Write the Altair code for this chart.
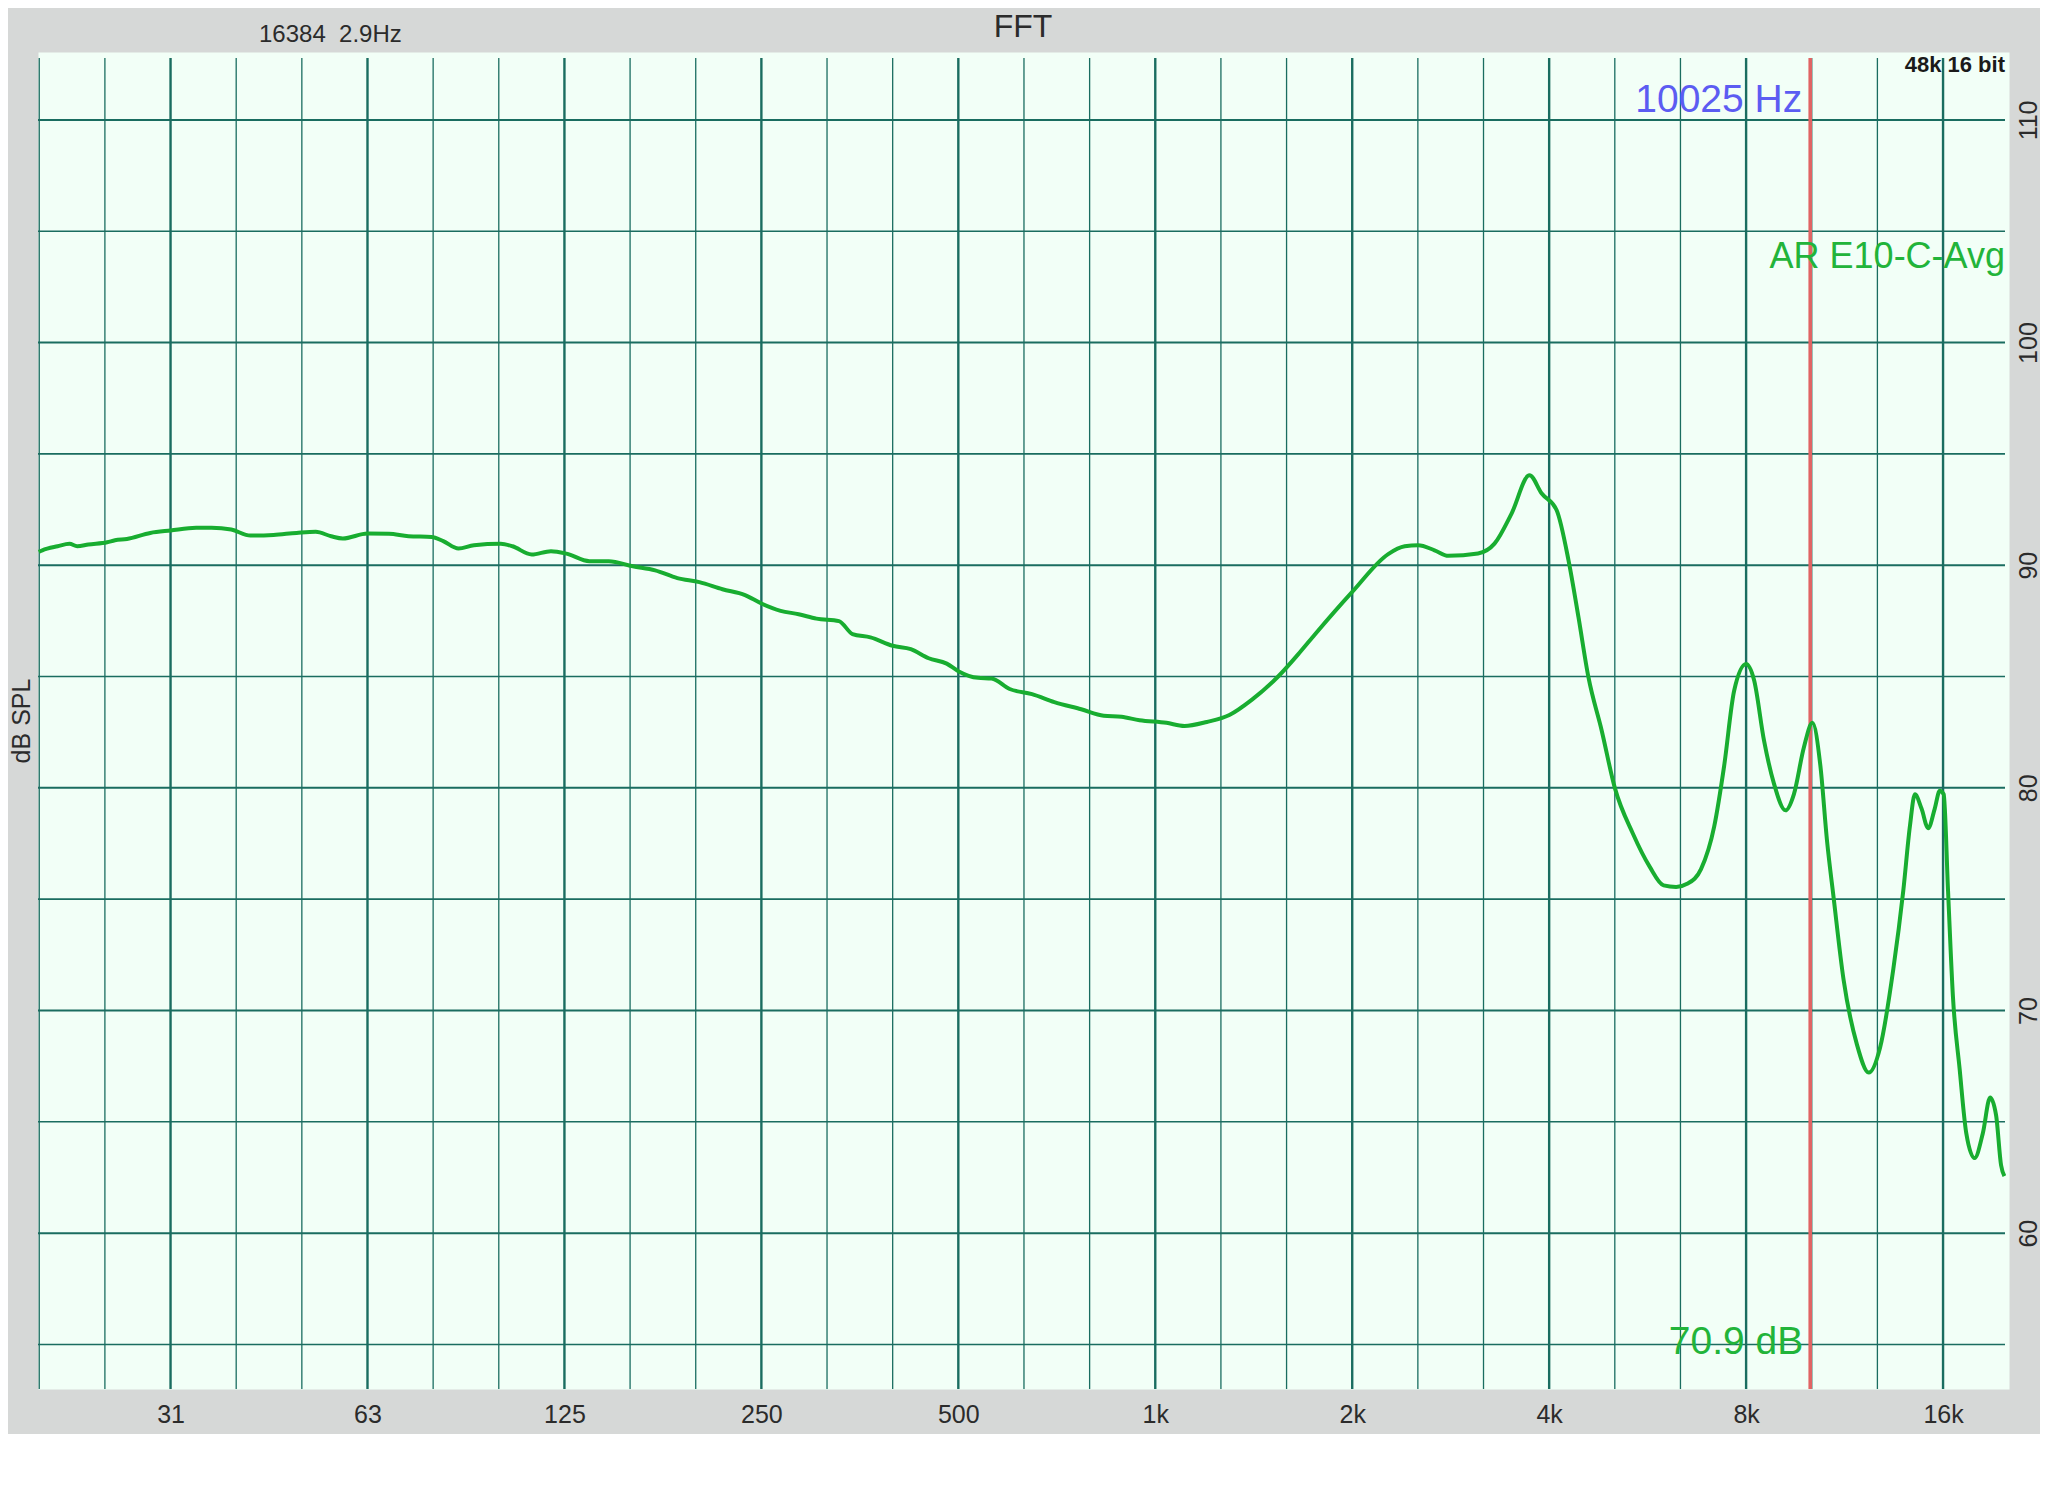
import altair as alt
import pandas as pd

# ---- measured response (frequency in Hz, level in dB SPL) ----
freq_hz = [
    19.65, 19.9, 21.0, 21.9, 22.5, 23.4, 25.0, 25.7, 26.8, 29.1, 31.25,
    34.2, 36.1, 38.7, 41.4, 44.9, 48.7, 52.1, 55.0, 57.3, 62.5,
    67.4, 72.2, 78.3, 81.6, 86.1, 90.9, 99.9, 104.1, 111.4, 119.2,
    125.9, 136.5, 146.1, 159, 172, 186, 201, 218, 236, 250,
    267.5, 285, 303.5, 328.5, 344.5, 367, 397, 423, 450.5, 480,
    500, 536, 562, 599, 648, 701, 770.5, 834, 888, 946,
    1040, 1108, 1199, 1298, 1404, 1541, 1665, 1755, 2000, 2270,
    2406, 2523, 2672, 2805, 3114, 3300, 3504, 3732, 3897, 4107,
    4282, 4434, 4592, 4810, 5040, 5370, 5700, 5984, 6254, 6514,
    6826, 7151, 7406, 7670, 8000, 8227, 8521, 8824, 9192, 9464,
    9801, 10103, 10390, 10635, 10886, 11274, 11812, 12319, 12818, 13431,
    13910, 14238, 14490, 14832, 15182, 15540, 15815, 16038, 16283, 16570,
    16962, 17362, 17875, 18405, 18884, 19285, 19625, 19855,
]
spl_db = [
    90.60, 90.67, 90.85, 90.96, 90.85, 90.93, 91.03, 91.12, 91.18, 91.45, 91.56,
    91.68, 91.68, 91.60, 91.33, 91.36, 91.45, 91.50, 91.30, 91.20, 91.42,
    91.41, 91.30, 91.27, 91.08, 90.75, 90.90, 90.96, 90.85, 90.48, 90.63,
    90.52, 90.18, 90.18, 89.95, 89.77, 89.42, 89.24, 88.92, 88.66, 88.28,
    87.95, 87.80, 87.60, 87.49, 86.91, 86.76, 86.38, 86.23, 85.82, 85.58,
    85.24, 84.94, 84.91, 84.44, 84.21, 83.85, 83.53, 83.24, 83.19, 83.04,
    82.92, 82.78, 82.96, 83.27, 83.95, 85.00, 86.10, 86.90, 88.80, 90.50,
    90.85, 90.90, 90.67, 90.42, 90.53, 90.97, 92.32, 94.04, 93.22, 92.47,
    90.22, 87.68, 84.98, 82.60, 80.00, 77.95, 76.45, 75.62, 75.55, 75.70,
    76.35, 78.27, 81.00, 84.36, 85.56, 84.84, 82.12, 80.19, 78.99, 79.71,
    81.80, 82.92, 80.99, 77.63, 75.06, 71.38, 68.49, 67.21, 68.33, 71.86,
    75.38, 78.27, 79.71, 79.07, 78.19, 79.07, 79.87, 79.71, 75.38, 70.58,
    67.37, 64.49, 63.37, 64.49, 66.09, 65.29, 63.05, 62.56,
]

# ---- axis ticks / grid ----
octave_freqs = [31.25, 62.5, 125, 250, 500, 1000, 2000, 4000, 8000, 16000]
octave_labels = ["31", "63", "125", "250", "500", "1k", "2k", "4k", "8k", "16k"]
third_octave_freqs = [f * 2 ** (k / 3) for f in octave_freqs for k in (-2, -1)]
db_major = [60, 70, 80, 90, 100, 110]
db_minor = [55, 65, 75, 85, 95, 105]

cursor_freq = [10025]
cursor_freq_label = ["10025 Hz"]
cursor_level_label = ["70.9 dB"]
trace_name = ["AR E10-C-Avg"]
fft_info = ["16384\u00a0\u00a02.9Hz"]
format_info = ["48k 16 bit"]
chart_title = ["FFT"]
y_title = ["dB SPL"]

W, H = 1971, 1337
GRID = "#1a6d60"
FONT = "Liberation Sans"

xscale = alt.Scale(type="log", domain=[19.6, 20180])
yscale = alt.Scale(domain=[53, 113.05])

label_expr = " : ".join(
    f"datum.value == {v} ? '{t}'" for v, t in zip(octave_freqs, octave_labels)
) + " : ''"

xaxis = alt.Axis(values=octave_freqs, labelExpr=label_expr, grid=False, domain=False,
                 ticks=False, tickSize=0, labelPadding=25, labelBaseline="middle",
                 labelFontSize=25, labelColor="#2b2b2b", labelFont=FONT, title=None,
                 labelOverlap=False, labelFlush=False)
yaxis = alt.Axis(orient="right", values=db_major, grid=False, domain=False, ticks=False,
                 tickSize=0, labelAngle=270, labelAlign="center", labelBaseline="middle",
                 labelPadding=19, labelFontSize=25, labelColor="#2b2b2b", labelFont=FONT,
                 title=None, labelOverlap=False, labelFlush=False)


def X():
    return alt.X("f:Q", scale=xscale, axis=xaxis)


def Y():
    return alt.Y("db:Q", scale=yscale, axis=yaxis)


curve_df = pd.DataFrame({"f": freq_hz, "db": spl_db})

v_minor = alt.Chart(pd.DataFrame({"f": third_octave_freqs})).mark_rule(
    color=GRID, strokeWidth=1.3).encode(x=X(), y=alt.value(6), y2=alt.value(H))
v_major = alt.Chart(pd.DataFrame({"f": octave_freqs})).mark_rule(
    color=GRID, strokeWidth=2.4).encode(x=X(), y=alt.value(6), y2=alt.value(H))
h_minor = alt.Chart(pd.DataFrame({"db": db_minor})).mark_rule(
    color=GRID, strokeWidth=1.6).encode(y=Y(), x=alt.value(0), x2=alt.value(W - 4))
h_major = alt.Chart(pd.DataFrame({"db": db_major})).mark_rule(
    color=GRID, strokeWidth=2.0).encode(y=Y(), x=alt.value(0), x2=alt.value(W - 4))

cursor = alt.Chart(pd.DataFrame({"f": cursor_freq})).mark_rule(
    color="#e06464", strokeWidth=3.6).encode(x=X(), y=alt.value(6), y2=alt.value(H))

curve = alt.Chart(curve_df).mark_line(
    color="#18ad30", strokeWidth=4, interpolate="monotone", strokeJoin="round").encode(
    x=X(), y=Y())

freq_text = alt.Chart(pd.DataFrame({"f": cursor_freq, "t": cursor_freq_label})).mark_text(
    align="right", baseline="alphabetic", dx=-8, fontSize=39, font=FONT,
    color="#5c5cf2").encode(x=X(), y=alt.value(60), text="t:N")
level_text = alt.Chart(pd.DataFrame({"f": cursor_freq, "t": cursor_level_label})).mark_text(
    align="right", baseline="alphabetic", dx=-7, fontSize=39, font=FONT,
    color="#22b43a").encode(x=X(), y=alt.value(1302), text="t:N")
name_text = alt.Chart(pd.DataFrame({"t": trace_name})).mark_text(
    align="right", baseline="alphabetic", fontSize=36, font=FONT,
    color="#22b43a").encode(x=alt.value(W - 4), y=alt.value(216), text="t:N")
fmt_text = alt.Chart(pd.DataFrame({"t": format_info})).mark_text(
    align="right", baseline="alphabetic", fontSize=22, font=FONT, fontWeight="bold",
    color="#1a1a1a").encode(x=alt.value(W - 4), y=alt.value(20), text="t:N")
fft_text = alt.Chart(pd.DataFrame({"t": fft_info})).mark_text(
    align="left", baseline="middle", fontSize=24, font=FONT,
    color="#2b2b2b").encode(x=alt.value(221), y=alt.value(-17), text="t:N")
title_text = alt.Chart(pd.DataFrame({"t": chart_title})).mark_text(
    align="center", baseline="middle", fontSize=32, font=FONT,
    color="#2b2b2b").encode(x=alt.value(985), y=alt.value(-25), text="t:N")
ytitle_text = alt.Chart(pd.DataFrame({"t": y_title})).mark_text(
    align="center", baseline="middle", fontSize=25, font=FONT, angle=270,
    color="#2b2b2b").encode(x=alt.value(-16), y=alt.value(669), text="t:N")

chart = alt.layer(
    v_minor, v_major, h_minor, h_major, cursor, curve,
    freq_text, level_text, name_text, fmt_text, fft_text, title_text, ytitle_text,
).properties(
    width=W, height=H,
    autosize=alt.AutoSizeParams(type="none"),
    padding={"left": 30, "top": 44, "right": 31, "bottom": 45},
    background="#d6d8d7",
).configure_view(fill="#f2fff7", stroke="transparent")

chart.save("out.html", embed_options={"renderer": "svg", "actions": False})
